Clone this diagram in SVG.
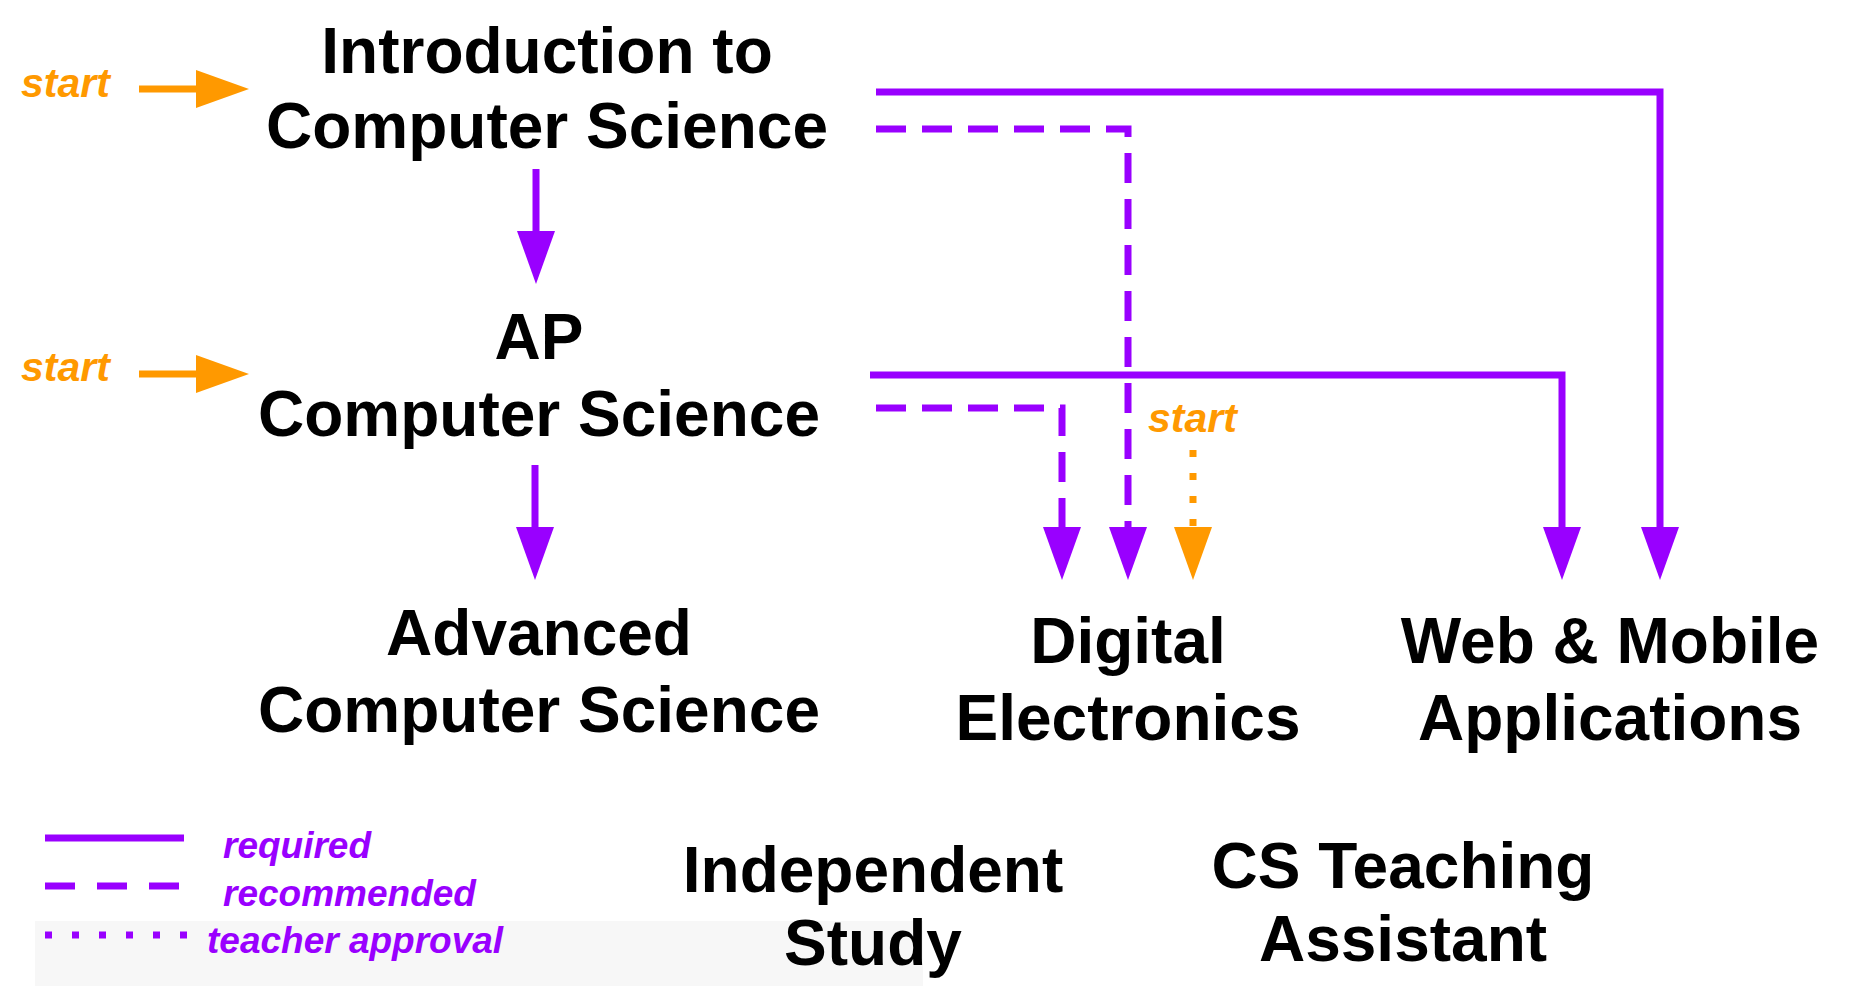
<svg xmlns="http://www.w3.org/2000/svg" width="1856" height="986" viewBox="0 0 1856 986">
<style>
.t{font-family:"Liberation Sans",Arial,sans-serif;font-weight:bold;font-size:64px;fill:#000;text-anchor:middle}
.s{font-family:"Liberation Sans",Arial,sans-serif;font-weight:bold;font-style:italic;font-size:41px;fill:#ff9900}
.l{font-family:"Liberation Sans",Arial,sans-serif;font-weight:bold;font-style:italic;font-size:37px;fill:#9900ff}
.p{fill:none;stroke:#9900ff;stroke-width:7}
.o{fill:none;stroke:#ff9900;stroke-width:7}
</style>
<defs>
<marker id="ap" markerUnits="userSpaceOnUse" viewBox="0 0 53 38" refX="0" refY="19" markerWidth="53" markerHeight="38" orient="auto"><path d="M0,0L53,19L0,38z" fill="#9900ff"/></marker>
<marker id="ao" markerUnits="userSpaceOnUse" viewBox="0 0 53 38" refX="0" refY="19" markerWidth="53" markerHeight="38" orient="auto"><path d="M0,0L53,19L0,38z" fill="#ff9900"/></marker>
</defs>
<rect width="1856" height="986" fill="#fff"/>
<rect x="35" y="921" width="888" height="65" fill="#f7f7f7"/>
<g id="intro"><text class="t" x="547" y="73">Introduction to</text><text class="t" x="547" y="148">Computer Science</text></g>
<g id="ap"><text class="t" x="539" y="359">AP</text><text class="t" x="539" y="436">Computer Science</text></g>
<g id="adv"><text class="t" x="539" y="655">Advanced</text><text class="t" x="539" y="732">Computer Science</text></g>
<g id="de"><text class="t" x="1128" y="663">Digital</text><text class="t" x="1128" y="740">Electronics</text></g>
<g id="web"><text class="t" x="1610" y="663">Web &amp; Mobile</text><text class="t" x="1610" y="740">Applications</text></g>
<g id="ind"><text class="t" x="873" y="892">Independent</text><text class="t" x="873" y="965">Study</text></g>
<g id="ta"><text class="t" x="1403" y="888">CS Teaching</text><text class="t" x="1403" y="961">Assistant</text></g>
<g id="starts"><text class="s" x="21" y="97">start</text><text class="s" x="21" y="381">start</text><text class="s" x="1148" y="432">start</text></g>
<g id="connectors">
<path class="o" d="M139,89H196" marker-end="url(#ao)"/>
<path class="o" d="M139,374H196" marker-end="url(#ao)"/>
<path class="o" d="M1193,450V527" stroke-dasharray="7 16" marker-end="url(#ao)"/>
<path class="p" d="M536,169V231" marker-end="url(#ap)"/>
<path class="p" d="M535,465V527" marker-end="url(#ap)"/>
<path class="p" d="M876,92H1660V527" marker-end="url(#ap)"/>
<path class="p" d="M876,129H1128V527" stroke-dasharray="30 16" marker-end="url(#ap)"/>
<path class="p" d="M870,375H1562V527" marker-end="url(#ap)"/>
<path class="p" d="M876,408H1062V527" stroke-dasharray="30 16" marker-end="url(#ap)"/>
</g>
<g id="legend">
<path class="p" d="M45,838H184" stroke-width="8"/>
<path class="p" d="M45,886H188" stroke-width="8" stroke-dasharray="30 22"/>
<path class="p" d="M45,935H188" stroke-width="8" stroke-dasharray="7 20"/>
<text class="l" x="223" y="858">required</text>
<text class="l" x="223" y="906">recommended</text>
<text class="l" x="207" y="953">teacher approval</text>
</g>
</svg>
